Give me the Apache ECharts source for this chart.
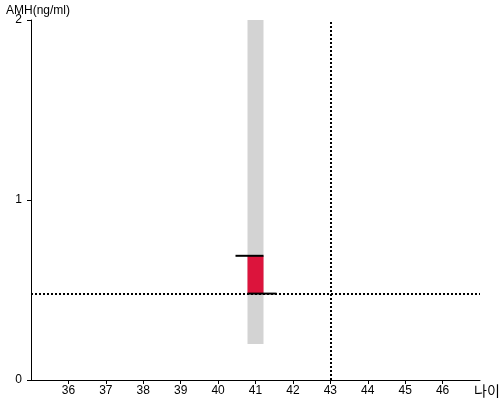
<!DOCTYPE html>
<html>
<head>
<meta charset="utf-8">
<script src="https://cdn.jsdelivr.net/npm/echarts@6/dist/echarts.min.js"></script>
<style>html,body{margin:0;padding:0;background:#fff}#c{width:500px;height:400px}</style>
</head>
<body>
<div id="c"></div>
<script>
// ---- data ----
const ages = [41];
const rangeLow = [0.2];
const rangeHigh = [2.0];
const boxLow = [0.48];
const boxHigh = [0.69];
const refAMH = 0.48;
const refAge = 43;
const yAxisName = 'AMH(ng/ml)';
const xAxisName = '나이';

const FONT = "'Liberation Sans', Arial, 'Noto Sans CJK KR', sans-serif";
const seriesData = ages.map((a, i) => [a, rangeLow[i], rangeHigh[i], boxLow[i], boxHigh[i]]);

const chart = echarts.init(document.getElementById('c'), null, {renderer: 'canvas'});
chart.setOption({
  animation: false,
  grid: {left: 31, right: 20, top: 20, bottom: 20, containLabel: false},
  xAxis: {
    type: 'value', min: 35, max: 47, interval: 1,
    axisLine: {lineStyle: {color: '#000', width: 1}},
    axisTick: {length: 4, lineStyle: {color: '#000'}, interval: function (i, v) { return v !== 35 && v !== 47; }},
    axisLabel: {showMinLabel: false, showMaxLabel: false, color: '#000', fontSize: 12, fontFamily: FONT, margin: 5,
      formatter: v => (v === 35 || v === 47) ? '' : String(v)},
    splitLine: {show: false}
  },
  yAxis: {
    type: 'value', min: 0, max: 2, interval: 1,
    axisLine: {show: true, lineStyle: {color: '#000', width: 1}},
    axisTick: {show: true, length: 4, lineStyle: {color: '#000'}},
    axisLabel: {color: '#000', fontSize: 12, fontFamily: FONT, margin: 9, padding: [3, 0, 0, 0]},
    splitLine: {show: false}
  },
  graphic: [
    {type: 'text', left: 6, top: 5, style: {text: yAxisName, font: '12px ' + FONT, fill: '#000'}},
    {type: 'text', left: 474, top: 385, style: {text: xAxisName, font: '14px ' + FONT, fill: '#000'}}
  ],
  series: [
    {
      type: 'custom',
      data: seriesData,
      encode: {x: 0, y: [1, 2, 3, 4]},
      renderItem: function (params, api) {
        const x = api.value(0);
        const pLo = api.coord([x, api.value(1)]);
        const pHi = api.coord([x, api.value(2)]);
        const pB1 = api.coord([x, api.value(3)]);
        const pB2 = api.coord([x, api.value(4)]);
        const hw = 8;
        const cx = pLo[0];
        return {
          type: 'group',
          children: [
            {type: 'rect', shape: {x: cx - hw, y: pHi[1], width: hw * 2, height: pLo[1] - pHi[1]}, style: {fill: '#d3d3d3'}},
            {type: 'rect', shape: {x: cx - hw, y: pB2[1], width: hw * 2, height: pB1[1] - pB2[1]}, style: {fill: '#dc143c'}},
            {type: 'line', shape: {x1: cx - hw - 12, y1: pB2[1], x2: cx + hw, y2: pB2[1]}, style: {stroke: '#000', lineWidth: 2}},
            {type: 'line', shape: {x1: cx - hw, y1: pB1[1], x2: cx + hw + 13, y2: pB1[1]}, style: {stroke: '#000', lineWidth: 2}}
          ]
        };
      },
      z: 3
    },
    {
      type: 'line',
      data: [],
      markLine: {
        silent: true,
        symbol: ['none', 'none'],
        label: {show: false},
        lineStyle: {color: '#000', type: [2, 2], width: 2},
        data: [{yAxis: refAMH}, {xAxis: refAge}]
      },
      z: 2
    }
  ]
});
</script>
</body>
</html>
